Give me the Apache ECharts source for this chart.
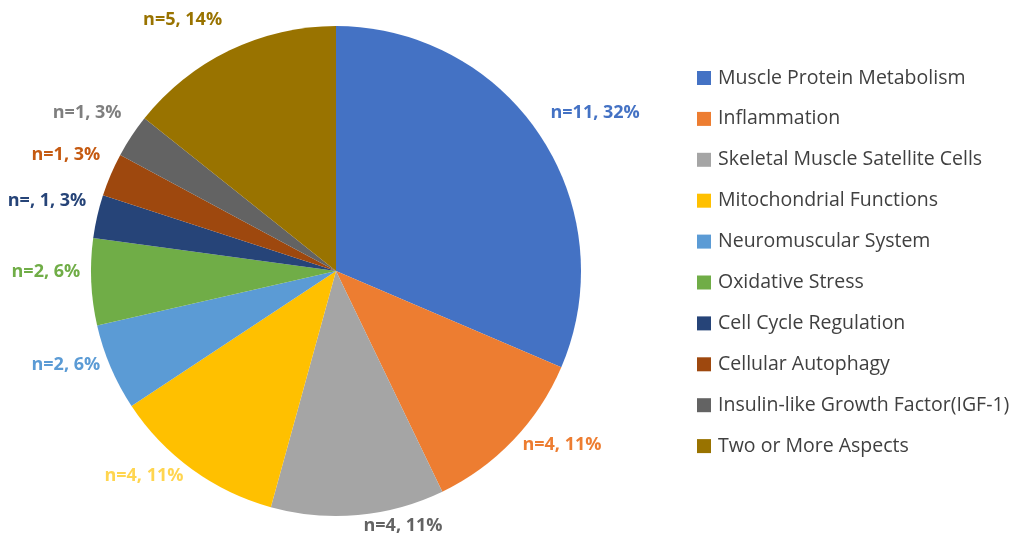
<!DOCTYPE html>
<html>
<head>
<meta charset="utf-8">
<script src="https://cdn.jsdelivr.net/npm/echarts@6/dist/echarts.min.js"></script>
<style>
html,body{margin:0;padding:0;background:#fff;}
#chart{width:1021px;height:539px;}
</style>
</head>
<body>
<div id="chart"></div>
<script>
const categories = [
  "Muscle Protein Metabolism",
  "Inflammation",
  "Skeletal Muscle Satellite Cells",
  "Mitochondrial Functions",
  "Neuromuscular System",
  "Oxidative Stress",
  "Cell Cycle Regulation",
  "Cellular Autophagy",
  "Insulin-like Growth Factor(IGF-1)",
  "Two or More Aspects"
];
const counts = [11, 4, 4, 4, 2, 2, 1, 1, 1, 5];
const labelTexts = [
  "n=11, 32%", "n=4, 11%", "n=4, 11%", "n=4, 11%", "n=2, 6%",
  "n=2, 6%", "n=, 1, 3%", "n=1, 3%", "n=1, 3%", "n=5, 14%"
];
const sliceColors = ["#4472C4","#ED7D31","#A5A5A5","#FFC000","#5B9BD5","#70AD47","#264478","#9E480E","#636363","#997300"];
const labelColors = ["#4472C4","#ED7D31","#636363","#FFD54F","#5B9BD5","#70AD47","#264478","#C55A11","#7F7F7F","#997300"];

const chart = echarts.init(document.getElementById('chart'));
const total = counts.reduce((a, b) => a + b, 0);
let cum = 0;
const labelShift = [];
const data = categories.map((name, i) => {
  // mid-angle of the slice, measured clockwise from 12 o'clock
  const mid = (cum + counts[i] / 2) / total * 2 * Math.PI;
  cum += counts[i];
  // Excel-like "outside end": label box sits outside the rim, upper labels raised
  labelShift.push(-11 - 16 * Math.cos(mid));
  return {
    name: name,
    value: counts[i],
    itemStyle: { color: sliceColors[i] },
    label: { color: labelColors[i], formatter: labelTexts[i] }
  };
});

chart.setOption({
  backgroundColor: '#ffffff',
  animation: false,
  legend: {
    orient: 'vertical',
    left: 692,
    top: 63,
    icon: 'rect',
    itemWidth: 14,
    itemHeight: 14,
    itemGap: 20.9,
    textStyle: { fontSize: 19.5, color: '#404040', fontFamily: 'Open Sans', padding: [0,0,0,2] },
    data: categories
  },
  series: [{
    type: 'pie',
    center: [336, 271],
    radius: 245,
    startAngle: 90,
    clockwise: true,
    avoidLabelOverlap: false,
    label: {
      show: true,
      position: 'outside',
      fontSize: 18,
      fontWeight: 'bold',
      fontFamily: 'Open Sans'
    },
    labelLine: { show: false, length: 6, length2: 0 },
    labelLayout: function (params) {
      return { dy: labelShift[params.dataIndex] };
    },
    itemStyle: { borderWidth: 0 },
    emphasis: { disabled: true },
    data: data
  }]
});
</script>
</body>
</html>
